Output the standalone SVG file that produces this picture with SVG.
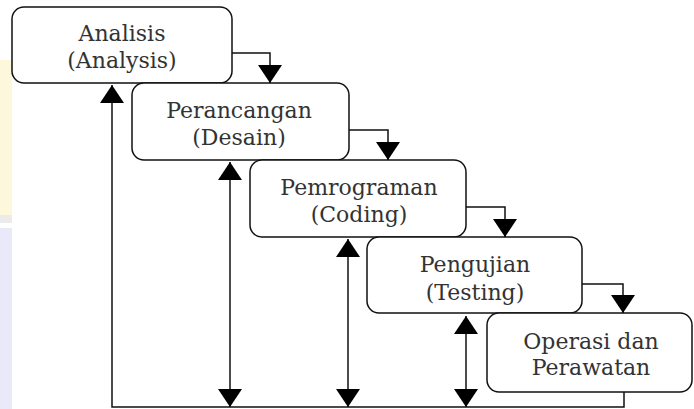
<svg xmlns="http://www.w3.org/2000/svg" width="694" height="409" viewBox="0 0 694 409">
<style>
.box{fill:#fff;stroke:#111;stroke-width:1.5}
.lbl{font-family:"DejaVu Serif","Liberation Serif",serif;font-size:22px;fill:#333;text-anchor:middle}
.con{fill:none;stroke:#111;stroke-width:1.5}
</style>
<defs>
<marker id="ah" viewBox="0 0 18 24" refX="18" refY="12" markerWidth="18" markerHeight="24" orient="auto-start-reverse" markerUnits="userSpaceOnUse">
<path d="M0,0 L18,12 L0,24 z" fill="#000"/>
</marker>
</defs>
<rect width="694" height="409" fill="#fff"/>
<g id="watermark" opacity="0.5">
<rect x="0" y="60" width="12" height="155" fill="#fdf0b8"/>
<rect x="0" y="215" width="12" height="8" fill="#d8d8d8"/>
<rect x="0" y="228" width="12" height="181" fill="#d4d4f5"/>
</g>
<g id="analisis">
<rect class="box" x="12" y="7" width="220" height="76" rx="12"/>
<text class="lbl" x="122" y="41">Analisis</text>
<text class="lbl" x="122" y="68">(Analysis)</text>
</g>
<g id="perancangan">
<rect class="box" x="132" y="83" width="217" height="77" rx="12"/>
<text class="lbl" x="239" y="118">Perancangan</text>
<text class="lbl" x="239" y="145">(Desain)</text>
</g>
<g id="pemrograman">
<rect class="box" x="250" y="160" width="216" height="77" rx="12"/>
<text class="lbl" x="359" y="195">Pemrograman</text>
<text class="lbl" x="359" y="222">(Coding)</text>
</g>
<g id="pengujian">
<rect class="box" x="367" y="237" width="215" height="76" rx="12"/>
<text class="lbl" x="475" y="272">Pengujian</text>
<text class="lbl" x="475" y="300">(Testing)</text>
</g>
<g id="operasi">
<rect class="box" x="487" y="313" width="205" height="79" rx="12"/>
<text class="lbl" x="591" y="349">Operasi dan</text>
<text class="lbl" x="591" y="375">Perawatan</text>
</g>
<g id="connectors">
<path class="con" d="M232,53 H270 V83" marker-end="url(#ah)"/>
<path class="con" d="M349,130 H388 V160" marker-end="url(#ah)"/>
<path class="con" d="M466,207 H505 V237" marker-end="url(#ah)"/>
<path class="con" d="M582,284 H623 V313" marker-end="url(#ah)"/>
<path class="con" d="M624,392 V407 H112 V85" marker-end="url(#ah)"/>
<path class="con" d="M230,162 V407" marker-start="url(#ah)" marker-end="url(#ah)"/>
<path class="con" d="M348,239 V407" marker-start="url(#ah)" marker-end="url(#ah)"/>
<path class="con" d="M466,316 V407" marker-start="url(#ah)" marker-end="url(#ah)"/>
</g>
</svg>
